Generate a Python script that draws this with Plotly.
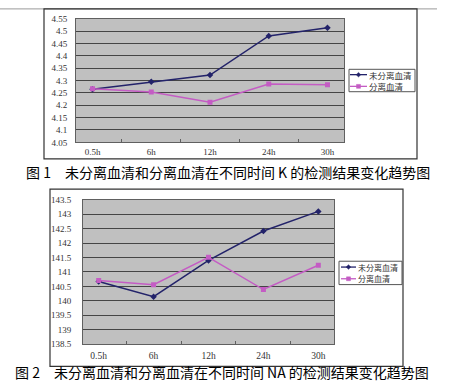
import plotly.graph_objects as go

W, H = 452, 388

categories = ["0.5h", "6h", "12h", "24h", "30h"]
series_names = ["未分离血清", "分离血清"]

k_unsep = [4.265, 4.295, 4.322, 4.480, 4.513]
k_sep = [4.267, 4.254, 4.212, 4.286, 4.283]
k_ticks = [4.05, 4.10, 4.15, 4.20, 4.25, 4.30, 4.35, 4.40, 4.45, 4.50, 4.55]
k_ticktext = ["4.05", "4.1", "4.15", "4.2", "4.25", "4.3", "4.35", "4.4", "4.45", "4.5", "4.55"]

na_unsep = [140.67, 140.14, 141.40, 142.42, 143.10]
na_sep = [140.70, 140.56, 141.51, 140.39, 141.23]
na_ticks = [138.5, 139.0, 139.5, 140.0, 140.5, 141.0, 141.5, 142.0, 142.5, 143.0, 143.5]
na_ticktext = ["138.5", "139", "139.5", "140", "140.5", "141", "141.5", "142", "142.5", "143", "143.5"]

captions = ["图 1\u3000未分离血清和分离血清在不同时间 K 的检测结果变化趋势图",
            "图 2\u3000未分离血清和分离血清在不同时间 NA 的检测结果变化趋势图"]

C_UNSEP = "#23236a"
C_SEP = "#c45cc4"
series_colors = [C_UNSEP, C_SEP]
series_symbols = ["diamond", "square"]


def px_x(x):
    return x / W


def px_y(y):
    return 1 - y / H


fig = go.Figure()

for vals, xa, ya in [((k_unsep, k_sep), "x", "y"), ((na_unsep, na_sep), "x2", "y2")]:
    for i, v in enumerate(vals):
        fig.add_trace(go.Scatter(x=categories, y=v, name=series_names[i], mode="lines+markers",
                                 line=dict(color=series_colors[i], width=1.5),
                                 marker=dict(symbol=series_symbols[i], size=5, color=series_colors[i]),
                                 xaxis=xa, yaxis=ya, showlegend=False, hoverinfo="skip"))

tick_font = dict(family="Liberation Serif, DejaVu Serif, serif", size=9, color="#333333")
tick_font2 = dict(family="Liberation Serif, DejaVu Serif, serif", size=9.5, color="#333333")

common_x = dict(type="category", showgrid=False, showline=True, linecolor="#606060",
                mirror=True, ticks="inside", ticklen=3, tickcolor="#606060",
                tickson="boundaries", fixedrange=True)
common_y = dict(showgrid=True, gridcolor="#454545", gridwidth=1, showline=True,
                linecolor="#606060", mirror=True, ticks="", zeroline=False,
                fixedrange=True)

fig.update_layout(
    width=W, height=H,
    margin=dict(l=0, r=0, t=0, b=0),
    paper_bgcolor="white",
    plot_bgcolor="#c0c0c0",
    showlegend=False,
    xaxis=dict(domain=[px_x(76), px_x(344)], anchor="y", ticklabelstandoff=1,
               tickfont=tick_font, **common_x),
    yaxis=dict(domain=[px_y(141), px_y(14)], anchor="x", range=[4.05, 4.55],
               tickvals=k_ticks, ticktext=k_ticktext, ticklabelstandoff=6,
               tickfont=tick_font, **common_y),
    xaxis2=dict(domain=[px_x(83), px_x(334)], anchor="y2", ticklabelstandoff=3,
                tickfont=tick_font2, **common_x),
    yaxis2=dict(domain=[px_y(348), px_y(200)], anchor="x2", range=[138.5, 143.5],
                tickvals=na_ticks, ticktext=na_ticktext, ticklabelstandoff=9,
                tickfont=tick_font, **common_y),
)

shapes = []
# page rule at top
shapes.append(dict(type="line", xref="paper", yref="paper", x0=0, x1=px_x(437),
                   y0=px_y(4), y1=px_y(4), line=dict(color="#999999", width=1)))
# frame chart 1
shapes.append(dict(type="rect", xref="paper", yref="paper", x0=px_x(44), x1=px_x(417),
                   y0=px_y(158), y1=px_y(4), line=dict(color="#333333", width=1.2)))
# frame chart 2
shapes.append(dict(type="rect", xref="paper", yref="paper", x0=px_x(50), x1=px_x(403),
                   y0=px_y(371), y1=px_y(189), line=dict(color="#333333", width=1.2)))


def add_legend(box, rows, line_x0, line_x1, text_x, fsize):
    x0, y0, x1, y1 = box
    shapes.append(dict(type="rect", xref="paper", yref="paper", x0=px_x(x0), x1=px_x(x1),
                       y0=px_y(y1), y1=px_y(y0), fillcolor="white",
                       line=dict(color="#555555", width=1)))
    for i, ry in enumerate(rows):
        col = series_colors[i]
        shapes.append(dict(type="line", xref="paper", yref="paper", x0=px_x(line_x0),
                           x1=px_x(line_x1), y0=px_y(ry), y1=px_y(ry),
                           line=dict(color=col, width=1.3)))
        mx = (line_x0 + line_x1) / 2
        if series_symbols[i] == "diamond":
            s = 2.3
            path = "M {} {} L {} {} L {} {} L {} {} Z".format(
                px_x(mx - s), px_y(ry), px_x(mx), px_y(ry - s),
                px_x(mx + s), px_y(ry), px_x(mx), px_y(ry + s))
            shapes.append(dict(type="path", xref="paper", yref="paper", path=path,
                               fillcolor=col, line=dict(color=col, width=0.5)))
        else:
            s = 2
            shapes.append(dict(type="rect", xref="paper", yref="paper",
                               x0=px_x(mx - s), x1=px_x(mx + s),
                               y0=px_y(ry + s), y1=px_y(ry - s),
                               fillcolor=col, line=dict(color=col, width=0.5)))
        fig.add_annotation(text=series_names[i], xref="paper", yref="paper",
                           x=px_x(text_x), y=px_y(ry), xanchor="left", yanchor="middle",
                           showarrow=False, borderpad=0,
                           font=dict(family="Noto Sans CJK SC", size=fsize, color="#333333"))


add_legend((349, 66, 415, 89), [71.5, 83.5], 350, 367, 368, 8.5)
add_legend((339, 263, 402, 287), [269, 281], 341, 356, 357, 8)

fig.update_layout(shapes=shapes)

cap_font = dict(family="Noto Sans CJK SC", size=14, color="#000000")
fig.add_annotation(text=captions[0], xref="paper", yref="paper", x=px_x(228), y=px_y(171),
                   xanchor="center", yanchor="middle", showarrow=False, font=cap_font)
fig.add_annotation(text=captions[1], xref="paper", yref="paper", x=px_x(222), y=px_y(377),
                   xanchor="center", yanchor="middle", showarrow=False, font=cap_font)

fig.write_html("out.html", config={"displayModeBar": False},
               post_script="document.body.style.margin='0';")
